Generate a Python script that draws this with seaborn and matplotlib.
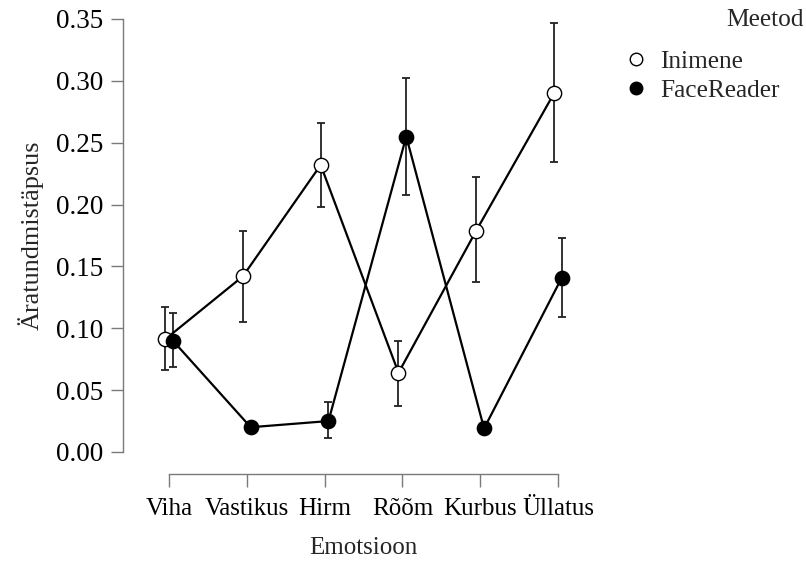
import numpy as np
import pandas as pd
import matplotlib
matplotlib.use("Agg")
import matplotlib.pyplot as plt
from matplotlib.lines import Line2D
import seaborn as sns

# Emotion categories and recognition accuracy per method
emotions = ["Viha", "Vastikus", "Hirm", "Rõõm", "Kurbus", "Üllatus"]
methods = ["Inimene", "FaceReader"]

inimene_mean = [0.091, 0.142, 0.232, 0.064, 0.179, 0.290]
inimene_lo = [0.066, 0.105, 0.198, 0.037, 0.137, 0.234]
inimene_hi = [0.117, 0.179, 0.266, 0.090, 0.222, 0.347]

face_mean = [0.090, 0.020, 0.025, 0.255, 0.019, 0.141]
face_lo = [0.069, 0.016, 0.011, 0.208, 0.015, 0.109]
face_hi = [0.112, 0.024, 0.040, 0.302, 0.023, 0.173]

yticks = [0.00, 0.05, 0.10, 0.15, 0.20, 0.25, 0.30, 0.35]

sns.set_style("ticks")
plt.rcParams["font.family"] = ["Liberation Serif", "DejaVu Serif"]

frames = []
for name, m, lo, hi, off in [
    ("Inimene", inimene_mean, inimene_lo, inimene_hi, -0.05),
    ("FaceReader", face_mean, face_lo, face_hi, 0.05),
]:
    frames.append(pd.DataFrame({
        "Emotsioon": emotions,
        "pos": np.arange(len(emotions)) + off,
        "mean": m, "lo": lo, "hi": hi, "Meetod": name,
    }))
df = pd.concat(frames, ignore_index=True)

fig = plt.figure(figsize=(8.06, 5.62), dpi=100)
ax = fig.add_axes([123 / 806, 88 / 562, 477 / 806, 458 / 562])

faces = {"Inimene": "white", "FaceReader": "black"}
for name in methods:
    sub = df[df["Meetod"] == name]
    ax.errorbar(sub["pos"], sub["mean"],
                yerr=[sub["mean"] - sub["lo"], sub["hi"] - sub["mean"]],
                fmt="none", ecolor="#222222", elinewidth=1.3, capsize=3.2,
                capthick=1.3, zorder=2)
for name in methods:
    sub = df[df["Meetod"] == name]
    sns.lineplot(data=sub, x="pos", y="mean", ax=ax, color="black",
                 linewidth=1.6, marker="o", markersize=10.3,
                 markerfacecolor=faces[name], markeredgecolor="black",
                 markeredgewidth=1.0, zorder=3, legend=False, sort=False)

ax.set_xlim(-0.591, 5.54)
ax.set_ylim(-0.0178, 0.3524)
ax.set_xticks(range(len(emotions)), emotions)
ax.set_yticks(yticks, [f"{v:.2f}" for v in yticks])
ax.spines["top"].set_visible(False)
ax.spines["right"].set_visible(False)
ax.spines["left"].set_bounds(0, 0.35)
ax.spines["bottom"].set_bounds(0, len(emotions) - 1)
for s in ("left", "bottom"):
    ax.spines[s].set_color("#7a7a7a")
    ax.spines[s].set_linewidth(1.0)
ax.tick_params(axis="both", direction="out", length=9, width=1.0,
               color="#7a7a7a", labelcolor="black")
ax.tick_params(axis="x", labelsize=18, pad=8)
ax.tick_params(axis="y", labelsize=19.5, pad=5)

ax.set_xlabel("Emotsioon", fontsize=18)
ax.set_ylabel("Äratundmistäpsus", fontsize=18.8)
ax.xaxis.set_label_coords((363 - 123) / 477, -(548 - 474) / 458)
ax.yaxis.set_label_coords(-(123 - 31) / 477, (474 - 235) / 458)
ax.xaxis.label.set_va("center")
ax.yaxis.label.set_va("center")

# Legend entries, with the group title set above them on the right
handles = [
    Line2D([], [], linestyle="none", marker="o", markersize=9,
           markerfacecolor=faces[n], markeredgecolor="black", markeredgewidth=1.0)
    for n in methods
]
leg = fig.legend(handles, methods, frameon=False, fontsize=18.3,
                 loc="upper left", bbox_to_anchor=(623 / 806, 1 - 50 / 562),
                 bbox_transform=fig.transFigure, handlelength=1.0,
                 handletextpad=0.45, labelspacing=0.24, borderaxespad=0,
                 borderpad=0)
fig.text(804 / 806, 1 - 20 / 562, "Meetod", ha="right", va="center",
         fontsize=18.3)

fig.savefig("out.png", dpi=100)
